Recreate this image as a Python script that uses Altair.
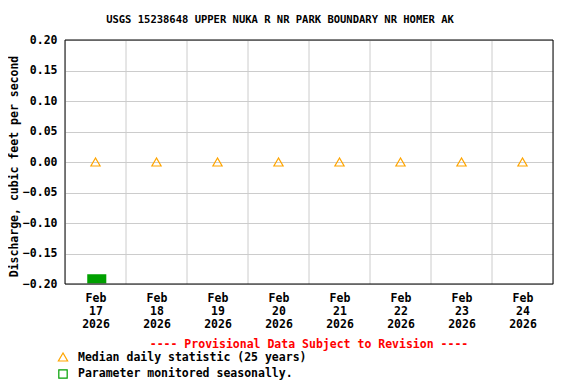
import altair as alt
import pandas as pd

days = ["2026-02-17", "2026-02-18", "2026-02-19", "2026-02-20",
        "2026-02-21", "2026-02-22", "2026-02-23", "2026-02-24"]
median_cfs = [0.00, 0.00, 0.00, 0.00, 0.00, 0.00, 0.00, 0.00]
seasonal_day = ["2026-02-17"]
seasonal_low = [-0.199]
seasonal_high = [-0.184]
y_ticks = [-0.20, -0.15, -0.10, -0.05, 0.00, 0.05, 0.10, 0.15, 0.20]

FONT = "DejaVu Sans Mono"
FS = 11.5
W, H = 488, 244

med = pd.DataFrame({"t": [d + "T12:00:00Z" for d in days], "v": median_cfs})
bounds = pd.DataFrame({"t": [d + "T00:00:00Z" for d in days[1:]]})
seas = pd.DataFrame({
    "t0": [d + "T08:45:00Z" for d in seasonal_day],
    "t1": [d + "T16:15:00Z" for d in seasonal_day],
    "lo": seasonal_low, "hi": seasonal_high,
})

x_scale = alt.Scale(type="utc", domain=["2026-02-17T00:00:00Z", "2026-02-25T00:00:00Z"])
y_scale = alt.Scale(domain=[-0.2, 0.2], nice=False)

x_axis = alt.Axis(
    values=[d + "T12:00:00Z" for d in days],
    labelExpr="[utcFormat(datum.value,'%b'), utcFormat(datum.value,'%d'), utcFormat(datum.value,'%Y')]",
    grid=False, ticks=False, domain=False, labelFont=FONT, labelFontSize=FS,
    labelFontWeight="bold", labelColor="black", labelPadding=8, labelLineHeight=13,
    title=None, labelAngle=0, labelOverlap=False,
)
y_axis = alt.Axis(
    values=y_ticks, format=".2f", grid=True, gridColor="#cccccc", ticks=False,
    domain=False, labelFont=FONT, labelFontSize=FS, labelFontWeight="bold",
    labelColor="black", labelPadding=8, labelOverlap=False, labelFlush=False,
    title="Discharge, cubic feet per second", titleFont=FONT, titleFontSize=FS,
    titleFontWeight="bold", titleColor="black", titlePadding=3, titleY=126,
)

grid = alt.Chart(bounds).mark_rule(color="#cccccc", strokeWidth=1).encode(
    x=alt.X("t:T", scale=x_scale, axis=x_axis),
)

pts = alt.Chart(med).mark_point(shape="triangle-up", filled=False, color="#ffa500",
                                 size=85, strokeWidth=1.2, opacity=1).encode(
    x=alt.X("t:T", scale=x_scale, axis=x_axis),
    y=alt.Y("v:Q", scale=y_scale, axis=y_axis),
)

bar = alt.Chart(seas).mark_rect(color="#00a000").encode(
    x=alt.X("t0:T", scale=x_scale, axis=x_axis), x2="t1:T",
    y=alt.Y("lo:Q", scale=y_scale, axis=y_axis), y2="hi:Q",
)

notes = pd.DataFrame({"a": [0]})
frame = alt.Chart(notes).mark_rect(filled=False, stroke="black", strokeWidth=1, fill=None).encode(
    x=alt.value(0), x2=alt.value(W), y=alt.value(0), y2=alt.value(H))

prov = alt.Chart(notes).mark_text(
    text="---- Provisional Data Subject to Revision ----", color="red",
    font=FONT, fontSize=FS, fontWeight="bold", align="center", baseline="middle",
).encode(x=alt.value(244), y=alt.value(305))

leg_tri = alt.Chart(notes).mark_point(shape="triangle-up", filled=False, color="#ffa500",
                                      size=85, strokeWidth=1.2, opacity=1).encode(
    x=alt.value(-2), y=alt.value(317))
leg_tri_t = alt.Chart(notes).mark_text(
    text="Median daily statistic (25 years)", font=FONT, fontSize=FS, fontWeight="bold",
    align="left", baseline="middle", color="black").encode(x=alt.value(13), y=alt.value(318))
leg_sq = alt.Chart(notes).mark_point(shape="square", filled=False, color="#00a000",
                                     size=70, strokeWidth=1.2, opacity=1).encode(
    x=alt.value(-2), y=alt.value(334))
leg_sq_t = alt.Chart(notes).mark_text(
    text="Parameter monitored seasonally.", font=FONT, fontSize=FS, fontWeight="bold",
    align="left", baseline="middle", color="black").encode(x=alt.value(13), y=alt.value(334))

chart = alt.layer(grid, bar, pts, frame, prov, leg_tri, leg_tri_t, leg_sq, leg_sq_t).properties(
    width=W, height=H,
    title=alt.TitleParams("USGS 15238648 UPPER NUKA R NR PARK BOUNDARY NR HOMER AK",
                          font=FONT, fontSize=10.5, fontWeight="bold", color="black",
                          anchor="middle", offset=9, dx=-29),
    autosize=alt.AutoSizeParams(type="none"),
    padding={"left": 57, "top": 32, "right": 15, "bottom": 100},
).configure_view(stroke="black", strokeWidth=1).configure(background="white")

chart.save("out.html", embed_options={"renderer": "svg", "actions": False})
